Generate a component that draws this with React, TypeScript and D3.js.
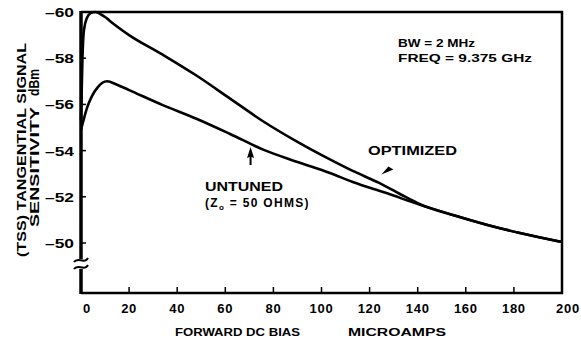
import { useEffect, useRef } from "react";
import * as d3 from "d3";

// Valores (bias em microamps, TSS em dBm)
const optimizedBias = [0, 0.6, 1.2, 2.5, 4, 6, 9, 14, 20, 34, 48, 62, 76, 90, 103.5, 113, 124, 133, 141, 155, 169, 182.5, 200];
const optimizedTss = [-55.3, -58.0, -59.2, -59.75, -59.95, -60.0, -59.85, -59.45, -59.0, -58.15, -57.25, -56.25, -55.25, -54.38, -53.62, -53.12, -52.6, -52.1, -51.68, -51.2, -50.78, -50.43, -50.04];

const untunedBias = [0, 1, 2.5, 4.5, 7, 10.8, 15, 20, 34, 48, 62, 76, 90, 103.5, 113, 127, 141, 155, 169, 182.5, 200];
const untunedTss = [-54.9, -55.3, -55.85, -56.35, -56.75, -57.0, -56.85, -56.62, -55.97, -55.38, -54.72, -54.03, -53.51, -53.03, -52.64, -52.16, -51.65, -51.2, -50.78, -50.43, -50.04];

const xTicks = [0, 20, 40, 60, 80, 100, 120, 140, 160, 180, 200];
const yTicks = [-60, -58, -56, -54, -52, -50];

const FONT = "'Liberation Sans', Arial, sans-serif";

const App = () => {
  const svgRef = useRef<SVGSVGElement>(null);

  useEffect(() => {
    if (!svgRef.current) return;
    const width = 581;
    const height = 340;
    const svg = d3.select(svgRef.current);
    svg.selectAll("*").remove();

    const left = 81, right = 562, top = 12, bottom = 293;

    const x = d3.scaleLinear().domain([0, 200]).range([left, right]);
    // -50 fica acima do eixo inferior (eixo quebrado)
    const y = d3.scaleLinear().domain([-50, -60]).range([243, top]);

    svg.attr("width", width).attr("height", height).attr("viewBox", `0 0 ${width} ${height}`);
    svg.append("rect").attr("width", width).attr("height", height).attr("fill", "white");

    // texto em negrito, esticado até a largura
    const label = (xx: number, yy: number, txt: string, size: number, len?: number) => {
      const t = svg.append("text")
        .attr("x", xx)
        .attr("y", yy)
        .style("font-family", FONT)
        .style("font-size", `${size}px`)
        .style("font-weight", "bold")
        .text(txt);
      if (len) t.attr("textLength", len).attr("lengthAdjust", "spacingAndGlyphs");
      return t;
    };

    // Moldura: topo, direita, base
    svg.append("path")
      .attr("d", `M${left},${top}H${right}V${bottom}H${left}`)
      .attr("fill", "none")
      .attr("stroke", "black")
      .attr("stroke-width", 2.5);

    // Eixo esquerdo com quebra
    svg.append("line").attr("x1", left).attr("x2", left).attr("y1", top - 1).attr("y2", 259)
      .attr("stroke", "black").attr("stroke-width", 3.5);
    svg.append("line").attr("x1", left).attr("x2", left).attr("y1", 269).attr("y2", bottom + 1)
      .attr("stroke", "black").attr("stroke-width", 3.5);
    [260, 267].forEach((yy) => {
      svg.append("path")
        .attr("d", `M${left - 7},${yy + 2} C${left - 3},${yy - 4} ${left + 3},${yy + 5} ${left + 7},${yy - 2}`)
        .attr("fill", "none")
        .attr("stroke", "black")
        .attr("stroke-width", 2);
    });

    // Ticks do eixo Y (para dentro)
    svg.append("g").selectAll("line").data(yTicks.slice(1)).enter().append("line")
      .attr("x1", left).attr("x2", left + 5)
      .attr("y1", (d) => y(d)).attr("y2", (d) => y(d))
      .attr("stroke", "black").attr("stroke-width", 1.5);

    svg.append("g").selectAll("text").data(yTicks).enter().append("text")
      .attr("x", 45)
      .attr("y", (d) => y(d) + 5)
      .attr("textLength", 29)
      .attr("lengthAdjust", "spacingAndGlyphs")
      .style("font-family", FONT)
      .style("font-size", "13px")
      .style("font-weight", "bold")
      .text((d) => `\u2013${Math.abs(d)}`);

    // Ticks do eixo X (para cima)
    svg.append("g").selectAll("line").data(xTicks.slice(1, -1)).enter().append("line")
      .attr("x1", (d) => x(d)).attr("x2", (d) => x(d))
      .attr("y1", bottom).attr("y2", bottom - 6)
      .attr("stroke", "black").attr("stroke-width", 1.5);

    svg.append("g").selectAll("text").data(xTicks).enter().append("text")
      .attr("x", (d) => x(d) + (d === 0 ? 6 : d === 200 ? 6 : 0))
      .attr("y", 313)
      .attr("text-anchor", "middle")
      .style("font-family", FONT)
      .style("font-size", "13px")
      .style("font-weight", "bold")
      .style("letter-spacing", "0.7px")
      .text((d) => String(d));

    // Títulos dos eixos
    label(175, 336, "FORWARD DC BIAS", 11.5, 125);
    label(348, 336, "MICROAMPS", 11.5, 98);

    label(0, 0, "(TSS) TANGENTIAL SIGNAL", 12.5, 214)
      .attr("transform", "translate(26,257) rotate(-90)");
    label(0, 0, "SENSITIVITY", 12.5, 120)
      .attr("transform", "translate(39,227) rotate(-90)");
    label(0, 0, "dBm", 14, 27)
      .attr("transform", "translate(39,96) rotate(-90)");

    // Curvas
    const line = d3.line<[number, number]>()
      .x((d) => x(d[0]))
      .y((d) => y(d[1]))
      .curve(d3.curveMonotoneX);

    const series = [
      d3.zip(untunedBias, untunedTss) as [number, number][],
      d3.zip(optimizedBias, optimizedTss) as [number, number][]
    ];
    series.forEach((pts) => {
      svg.append("path")
        .datum(pts)
        .attr("d", line)
        .attr("fill", "none")
        .attr("stroke", "black")
        .attr("stroke-width", 2.6)
        .attr("stroke-linejoin", "round");
    });

    // Anotações
    label(398, 47, "BW = 2 MHz", 11, 77);
    label(398, 62, "FREQ = 9.375 GHz", 11, 134);
    label(368, 155, "OPTIMIZED", 12, 89);
    label(205, 191, "UNTUNED", 12, 78);

    const zText = svg.append("text").attr("x", 205).attr("y", 207)
      .style("font-family", FONT)
      .style("font-size", "12px")
      .style("font-weight", "bold")
      .style("letter-spacing", "1.3px");
    zText.append("tspan").text("(Z");
    zText.append("tspan").attr("dy", 3).style("font-size", "8px").text("o");
    zText.append("tspan").attr("dy", -3).text(" = 50 OHMS)");

    // Setas
    const ux = x(70.5);
    const uy = y(-54.2);
    svg.append("path")
      .attr("d", `M${ux},${uy + 1} L${ux - 3.5},${uy + 12} L${ux - 1},${uy + 11} L${ux - 1},${uy + 19} L${ux + 1},${uy + 19} L${ux + 1},${uy + 11} L${ux + 3.5},${uy + 12} Z`)
      .attr("fill", "black");

    const ox = x(124.5);
    const oy = y(-52.75);
    svg.append("path")
      .attr("d", `M${ox + 1},${oy - 5} L${ox + 8},${oy - 13} L${ox + 13},${oy - 10} Z`)
      .attr("fill", "black");
  }, []);

  return (
    <svg ref={svgRef} style={{ position: "fixed", left: 0, top: 0 }} />
  );
};

export default App;
